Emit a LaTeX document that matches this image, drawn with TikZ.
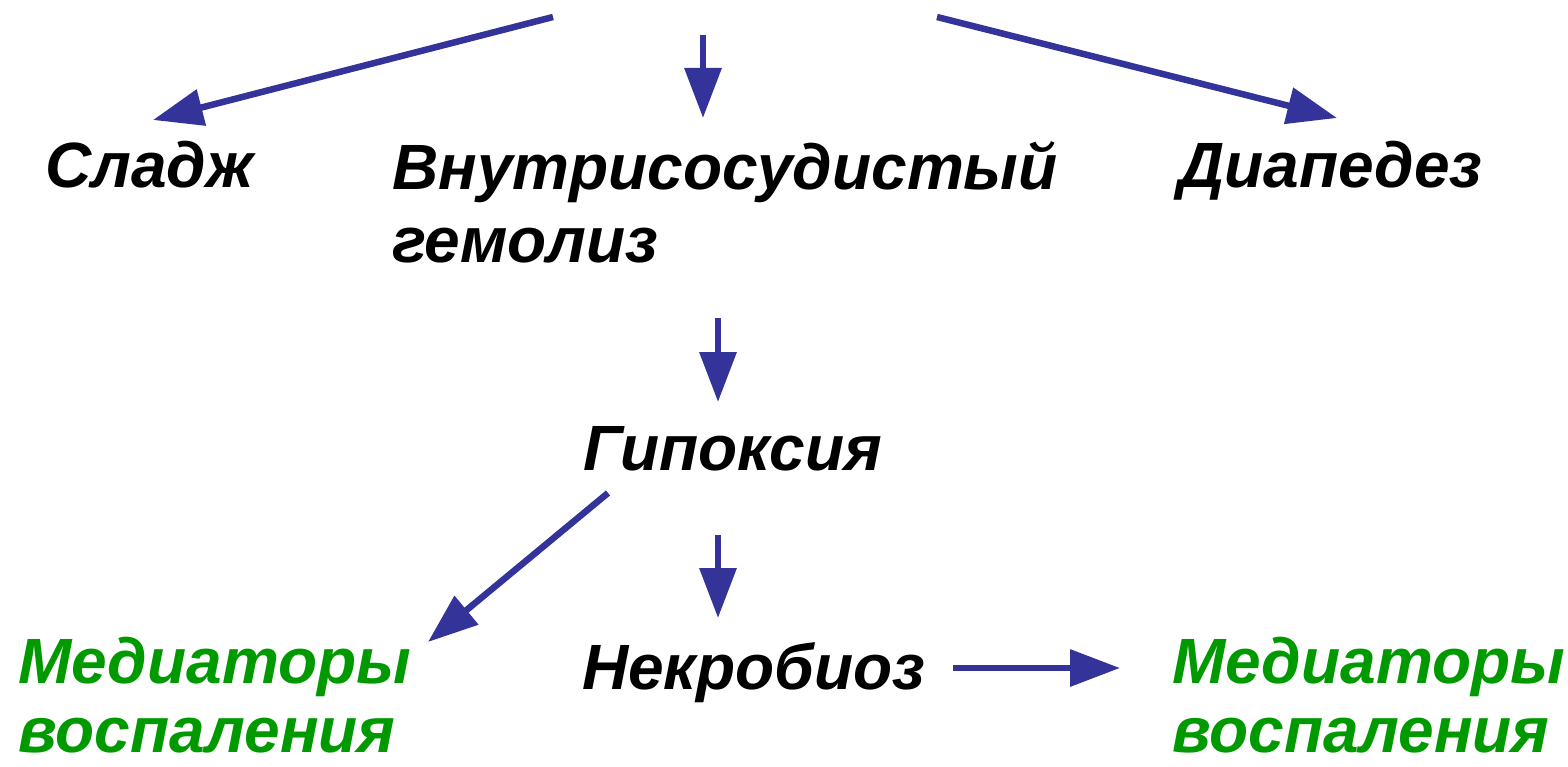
\documentclass[tikz,border=0pt]{standalone}
\usepackage{fontspec}
\setmainfont{Liberation Sans}
\usetikzlibrary{arrows.meta}
\definecolor{arr}{HTML}{333399}
\definecolor{grn}{HTML}{009900}
\tikzset{
  lbl/.style={anchor=base west, inner sep=0pt, text depth=0pt, font=\fontsize{64}{72}\selectfont\bfseries\itshape},
  glbl/.style={lbl, text=grn},
  arrw/.style={draw=arr, line width=6.5pt, -{Triangle[length=50pt,width=36pt]}}
}
\begin{document}
\begin{tikzpicture}[x=1pt,y=-1pt]
\useasboundingbox (0,0) rectangle (1568,767);
\node[lbl] (sl) at (45,188) {Сладж};
\node[lbl] (vg) at (392,190) {Внутрисосудистый};
\node[lbl] (vg2) at (392,262) {гемолиз};
\node[lbl] (di) at (1178,188) {Диапедез};
\node[lbl] (gi) at (583,470) {Гипоксия};
\node[lbl] (ne) at (582,689) {Некробиоз};
\node[glbl] (m1) at (18,683) {Медиаторы};
\node[glbl] (m1b) at (18,752) {воспаления};
\node[glbl] (m2) at (1172,683) {Медиаторы};
\node[glbl] (m2b) at (1172,752) {воспаления};
\coordinate (a1s) at (553,17); \coordinate (a1e) at (153,120);
\coordinate (a2s) at (703,35); \coordinate (a2e) at (703,118);
\coordinate (a3s) at (937,17); \coordinate (a3e) at (1337,118);
\coordinate (a4s) at (718,318); \coordinate (a4e) at (718,402);
\coordinate (a5s) at (608,493); \coordinate (a5e) at (428,642);
\coordinate (a6s) at (718,535); \coordinate (a6e) at (718,618);
\coordinate (a7s) at (953,668); \coordinate (a7e) at (1120,668);
\draw[arrw] (a1s) -- (a1e);
\draw[arrw] (a2s) -- (a2e);
\draw[arrw] (a3s) -- (a3e);
\draw[arrw] (a4s) -- (a4e);
\draw[arrw] (a5s) -- (a5e);
\draw[arrw] (a6s) -- (a6e);
\draw[arrw] (a7s) -- (a7e);
\end{tikzpicture}
\end{document}
